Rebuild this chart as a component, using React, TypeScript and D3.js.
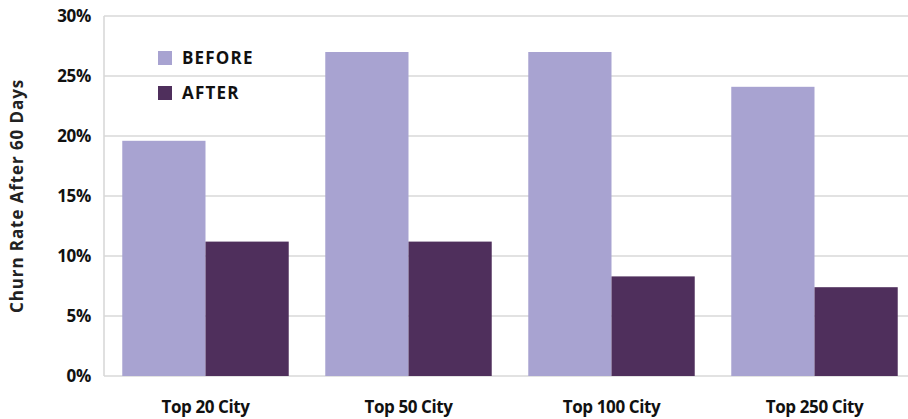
import React from "react";
import * as d3 from "d3";

const categories = ["Top 20 City", "Top 50 City", "Top 100 City", "Top 250 City"];
const seriesNames = ["BEFORE", "AFTER"];
const beforeValues = [19.6, 27.0, 27.0, 24.1];
const afterValues = [11.2, 11.2, 8.3, 7.4];
const yTicks = [0, 5, 10, 15, 20, 25, 30];
const colors = ["#a8a3d1", "#4f2f5c"];

const W = 908;
const H = 419;
const margin = { top: 16, left: 104, bottom: 43 };
const plotRight = 916;

export default function App() {
  const x = d3.scaleBand<string>().domain(categories).range([margin.left, plotRight]).paddingInner(0.18).paddingOuter(0.09);
  const x1 = d3.scaleBand<string>().domain(seriesNames).range([0, x.bandwidth()]);
  const y = d3.scaleLinear().domain([0, 30]).range([H - margin.bottom, margin.top]);
  const font = "'Open Sans', 'Noto Sans', sans-serif";
  const series = [beforeValues, afterValues];
  return (
    <svg width={W} height={H} style={{ position: "absolute", left: 0, top: 0 }} fontFamily={font}>
      {yTicks.map((t) => (
        <g key={t}>
          <line x1={margin.left} x2={W} y1={y(t)} y2={y(t)} stroke="#d9d9d9" strokeWidth={1.6} />
          <text x={91} y={y(t)} dy="0.36em" textAnchor="end" fontSize={17} fontWeight={700} fill="#111" letterSpacing={-0.3}>
            {t}%
          </text>
        </g>
      ))}
      <line x1={margin.left} x2={margin.left} y1={y(30)} y2={y(0)} stroke="#d9d9d9" strokeWidth={1.6} />
      {categories.map((c, i) => (
        <g key={c}>
          {seriesNames.map((s, j) => (
            <rect key={s} x={x(c)! + x1(s)!} width={x1.bandwidth()} y={y(series[j][i])} height={y(0) - y(series[j][i])} fill={colors[j]} />
          ))}
          <text x={x(c)! + x.bandwidth() / 2} y={413} textAnchor="middle" fontSize={17} fontWeight={700} fill="#111" letterSpacing={-0.4}>
            {c}
          </text>
        </g>
      ))}
      {seriesNames.map((s, j) => (
        <g key={s} transform={`translate(158, ${51 + j * 35})`}>
          <rect width={14} height={14} fill={colors[j]} />
          <text x={24} y={7} dy="0.36em" fontSize={17} fontWeight={700} fill="#111" letterSpacing={1.2}>
            {s}
          </text>
        </g>
      ))}
      <text transform={`translate(23, ${(y(0) + y(30)) / 2}) rotate(-90)`} textAnchor="middle" fontSize={17} fontWeight={700} fill="#222" letterSpacing={0.9}>
        Churn Rate After 60 Days
      </text>
    </svg>
  );
}
